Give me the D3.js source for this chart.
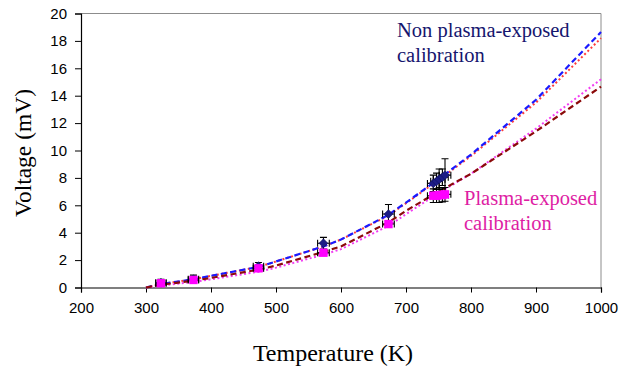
<!DOCTYPE html>
<html>
<head>
<meta charset="utf-8">
<script src="https://cdn.jsdelivr.net/npm/d3@7"></script>
<style>
  html, body { margin: 0; padding: 0; background: #fff; }
  svg { display: block; }
</style>
</head>
<body>
<svg id="chart" width="621" height="372"></svg>
<script>
// Measured thermocouple points (temperature in K, voltage in mV)
const tempPoints      = [323, 373, 473, 573, 673, 742, 747, 751, 756, 760];
const nonPlasmaVolt   = [0.35, 0.6, 1.55, 3.23, 5.36, 7.6, 7.75, 7.9, 8.05, 8.2];
const nonPlasmaErr    = [0.25, 0.3, 0.27, 0.43, 0.7, 0.6, 0.6, 0.75, 0.6, 1.2];
const plasmaVolt      = [0.31, 0.55, 1.4, 2.54, 4.63, 6.7, 6.7, 6.75, 6.75, 6.8];
const plasmaErr       = [0.15, 0.15, 0.2, 0.2, 0.25, 0.5, 0.5, 0.55, 0.5, 0.5];
const tempErr         = [8, 8, 8, 9, 9, 9, 9, 9, 9, 9];

// Calibration curves
const curveTemp       = [300, 323, 373, 400, 473, 500, 573, 600, 673, 700, 750, 800, 900, 1000];
const nonPlasmaFitA   = [0, 0.25, 0.6, 0.85, 1.5, 1.9, 3.0, 3.5, 5.3, 6.2, 7.9, 9.7, 13.7, 18.65];
const nonPlasmaFitB   = [0, 0.25, 0.6, 0.85, 1.5, 1.9, 3.0, 3.5, 5.25, 6.15, 7.85, 9.6, 13.5, 18.2];
const plasmaFitA      = [0, 0.2, 0.5, 0.7, 1.3, 1.6, 2.6, 3.0, 4.75, 5.6, 7.0, 8.3, 11.4, 14.66];
const plasmaFitB      = [0, 0.15, 0.4, 0.6, 1.15, 1.45, 2.4, 2.8, 4.5, 5.35, 6.9, 8.3, 11.6, 15.2];

const xTicks = [200, 300, 400, 500, 600, 700, 800, 900, 1000];
const yTicks = [0, 2, 4, 6, 8, 10, 12, 14, 16, 18, 20];

const svg = d3.select("#chart");
const plotLeft = 81, plotRight = 601, plotTop = 13.5, plotBottom = 287.5;

const x = d3.scaleLinear().domain([200, 1000]).range([plotLeft, plotRight]);
const y = d3.scaleLinear().domain([0, 20]).range([plotBottom, plotTop]);

// Plot frame: gray top/right edges
svg.append("path")
  .attr("d", `M${plotLeft},${plotTop}H${plotRight}V${plotBottom}`)
  .attr("fill", "none").attr("stroke", "#8c8c8c").attr("stroke-width", 1);

const tickFont = "'Liberation Sans', Arial, sans-serif";

const xAxis = svg.append("g")
  .attr("transform", `translate(0,${plotBottom})`)
  .call(d3.axisBottom(x).tickValues(xTicks).tickSize(5).tickPadding(6).tickFormat(d3.format("d")));
const yAxis = svg.append("g")
  .attr("transform", `translate(${plotLeft},0)`)
  .call(d3.axisLeft(y).tickValues(yTicks).tickSize(6).tickPadding(8).tickFormat(d3.format("d")));

[xAxis, yAxis].forEach(g => {
  g.select(".domain").attr("stroke", "#000").attr("stroke-width", 1.2);
  g.selectAll(".tick line").attr("stroke", "#000");
  g.selectAll(".tick text").attr("fill", "#000")
    .style("font-family", tickFont).style("font-size", "15px");
});
xAxis.selectAll(".tick text").attr("dy", "0.95em");

// Calibration curves
const line = d3.line().x(d => x(d[0])).y(d => y(d[1]));
const curves = [
  { v: nonPlasmaFitB, color: "#ff3b3b", dash: "2,2.5", w: 2 },
  { v: nonPlasmaFitA, color: "#1a1aff", dash: "6,3.5", w: 2.2 },
  { v: plasmaFitB,    color: "#f23cf2", dash: "2,2.5", w: 2 },
  { v: plasmaFitA,    color: "#8b0a0a", dash: "6,3.5", w: 2.2 }
];
curves.forEach(c => {
  svg.append("path")
    .datum(curveTemp.map((t, i) => [t, c.v[i]]))
    .attr("d", line)
    .attr("fill", "none")
    .attr("stroke", c.color)
    .attr("stroke-width", c.w)
    .attr("stroke-dasharray", c.dash);
});

// Error bars
function errorBars(volts, errs) {
  const g = svg.append("g").attr("stroke", "#000").attr("stroke-width", 1.1).attr("fill", "none");
  tempPoints.forEach((t, i) => {
    const cx = x(t), cy = y(volts[i]);
    const y0 = y(volts[i] - errs[i]), y1 = y(volts[i] + errs[i]);
    const x0 = x(t - tempErr[i]), x1 = x(t + tempErr[i]);
    g.append("path").attr("d",
      `M${cx},${y0}V${y1}M${cx - 3.5},${y0}H${cx + 3.5}M${cx - 3.5},${y1}H${cx + 3.5}` +
      `M${x0},${cy}H${x1}M${x0},${cy - 3.5}V${cy + 3.5}M${x1},${cy - 3.5}V${cy + 3.5}`);
  });
}
errorBars(nonPlasmaVolt, nonPlasmaErr);
errorBars(plasmaVolt, plasmaErr);

// Markers
svg.append("g").selectAll("path")
  .data(tempPoints.map((t, i) => [t, nonPlasmaVolt[i]]))
  .join("path")
  .attr("d", d3.symbol(d3.symbolDiamond2, 50))
  .attr("transform", d => `translate(${x(d[0])},${y(d[1])})`)
  .attr("fill", "#1c1c86").attr("stroke", "#10105a").attr("stroke-width", 0.6);

svg.append("g").selectAll("rect")
  .data(tempPoints.map((t, i) => [t, plasmaVolt[i]]))
  .join("rect")
  .attr("x", d => x(d[0]) - 4.2).attr("y", d => y(d[1]) - 4.2)
  .attr("width", 8.4).attr("height", 8.4)
  .attr("fill", "#ff00ff");

// Series labels
const serif = "'Liberation Serif', 'Times New Roman', serif";
const label = (lines, px, py, color) => {
  const t = svg.append("text").attr("x", px).attr("y", py)
    .attr("fill", color).style("font-family", serif).style("font-size", "20.5px");
  lines.forEach((s, i) => t.append("tspan").attr("x", px).attr("dy", i ? 24.5 : 0).text(s));
};
label(["Non plasma-exposed", "calibration"], 397, 37, "#15156e");
label(["Plasma-exposed", "calibration"], 464, 205, "#de1ea4");

// Axis titles
svg.append("text")
  .attr("x", 333).attr("y", 361).attr("text-anchor", "middle")
  .style("font-family", serif).style("font-size", "24px").attr("fill", "#000")
  .text("Temperature (K)");
svg.append("text")
  .attr("transform", "translate(31,153) rotate(-90)").attr("text-anchor", "middle")
  .style("font-family", serif).style("font-size", "23.5px").attr("fill", "#000")
  .text("Voltage (mV)");
</script>
</body>
</html>
